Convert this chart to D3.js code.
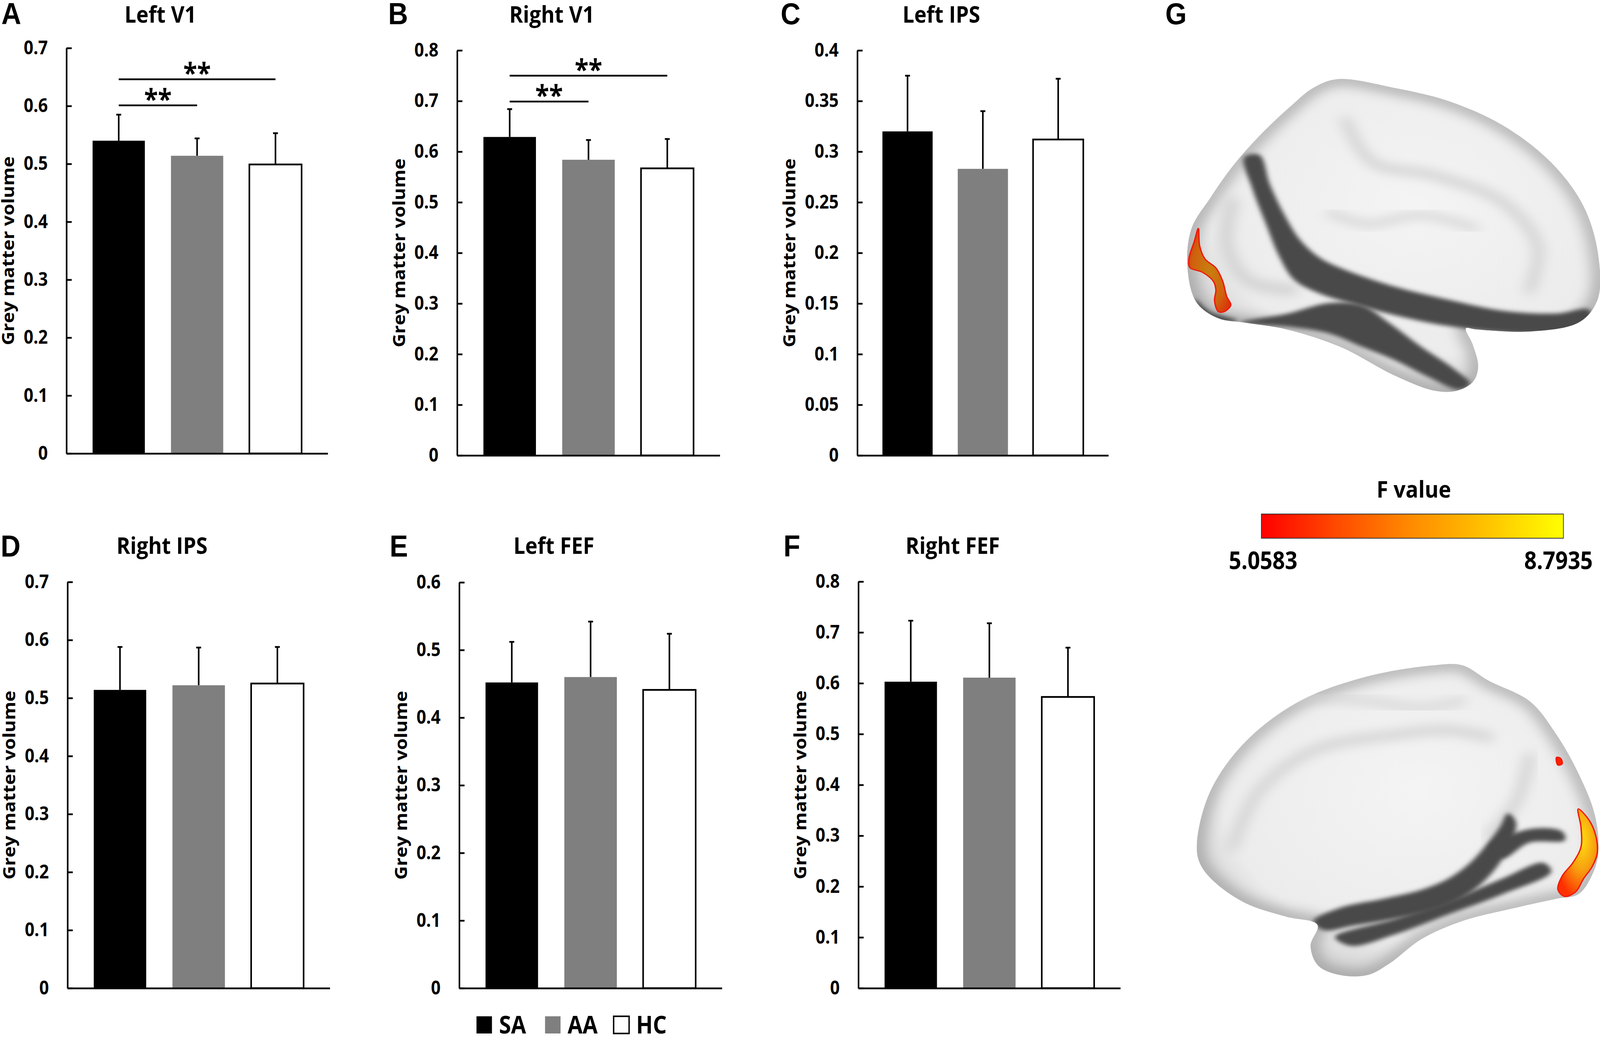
<!DOCTYPE html>
<html>
<head>
<meta charset="utf-8">
<script src="https://d3js.org/d3.v7.min.js"></script>
<style>
  html, body { margin: 0; padding: 0; background: #fff; overflow: hidden; }
  svg { display: block; }
  svg text { font-family: "Open Sans", sans-serif; font-weight: bold; fill: #000; }
</style>
</head>
<body>
<script>
// ---- data ----
var groups = ["SA", "AA", "HC"];
var panels = ["A", "B", "C", "D", "E", "F"];
var regions = ["Left V1", "Right V1", "Left IPS", "Right IPS", "Left FEF", "Right FEF"];

var meanSA = [0.540, 0.629, 0.320, 0.514, 0.452, 0.603];
var meanAA = [0.514, 0.584, 0.283, 0.522, 0.460, 0.611];
var meanHC = [0.499, 0.567, 0.312, 0.525, 0.441, 0.573];
var errSA  = [0.045, 0.055, 0.055, 0.074, 0.060, 0.120];
var errAA  = [0.030, 0.039, 0.057, 0.065, 0.082, 0.107];
var errHC  = [0.054, 0.058, 0.060, 0.063, 0.083, 0.097];

var yMax  = [0.7, 0.8, 0.4, 0.7, 0.6, 0.8];
var yStep = [0.1, 0.1, 0.05, 0.1, 0.1, 0.1];

var sigPanel = ["A", "A", "B", "B"];
var sigFrom  = ["SA", "SA", "SA", "SA"];
var sigTo    = ["AA", "HC", "AA", "HC"];
var sigLevel = [0.601, 0.646, 0.699, 0.750];
var sigMark  = ["**", "**", "**", "**"];

var fRange  = [5.0583, 8.7935];
var fLabels = ["5.0583", "8.7935"];

// ---- layout ----
var width = 4550, height = 2655;
var frames = {
  A: {x: 189,  end: 932,  top: 123,  base: 1161, titleY: 58,   lx: 4,    ly: 62},
  B: {x: 1300, end: 2047, top: 129,  base: 1166, titleY: 58,   lx: 1104, ly: 62},
  C: {x: 2438, end: 3152, top: 129,  base: 1166, titleY: 58,   lx: 2220, ly: 62},
  D: {x: 192,  end: 938,  top: 1490, base: 2530, titleY: 1418, lx: 2,    ly: 1425},
  E: {x: 1306, end: 2053, top: 1491, base: 2530, titleY: 1418, lx: 1108, ly: 1425},
  F: {x: 2441, end: 3186, top: 1489, base: 2530, titleY: 1418, lx: 2228, ly: 1425}
};
var fills = {SA: "#000000", AA: "#7f7f7f", HC: "#ffffff"};
var lw = 4.5;

var svg = d3.select("body").append("svg")
    .attr("viewBox", "0 0 " + width + " " + height)
    .attr("preserveAspectRatio", "none")
    .attr("width", "100vw")
    .attr("height", "100vh");
var defs = svg.append("defs");

panels.forEach(function (id, i) {
  var f = frames[id];
  var L = f.end - f.x;
  var g = svg.append("g").attr("class", "panel-" + id);
  var means = [meanSA[i], meanAA[i], meanHC[i]];
  var errs = [errSA[i], errAA[i], errHC[i]];
  var rows = groups.map(function (k, j) { return {k: k, v: means[j], e: errs[j]}; });

  var y = d3.scaleLinear().domain([0, yMax[i]]).range([f.base, f.top]);
  var x = d3.scaleBand().domain(groups)
      .range([f.x + 0.05 * L, f.x + 0.95 * L])
      .paddingInner(1 / 3).paddingOuter(1 / 6);

  // error bars (upper only)
  g.selectAll(".err").data(rows).enter().append("line")
      .attr("x1", function (d) { return x(d.k) + x.bandwidth() / 2; })
      .attr("x2", function (d) { return x(d.k) + x.bandwidth() / 2; })
      .attr("y1", function (d) { return y(d.v); })
      .attr("y2", function (d) { return y(d.v + d.e); })
      .attr("stroke", "#000").attr("stroke-width", lw);
  g.selectAll(".cap").data(rows).enter().append("line")
      .attr("x1", function (d) { return x(d.k) + x.bandwidth() / 2 - 7; })
      .attr("x2", function (d) { return x(d.k) + x.bandwidth() / 2 + 7; })
      .attr("y1", function (d) { return y(d.v + d.e); })
      .attr("y2", function (d) { return y(d.v + d.e); })
      .attr("stroke", "#000").attr("stroke-width", lw);

  g.selectAll(".bar").data(rows).enter().append("rect")
      .attr("x", function (d) { return x(d.k); })
      .attr("y", function (d) { return y(d.v); })
      .attr("width", x.bandwidth())
      .attr("height", function (d) { return y(0) - y(d.v); })
      .attr("fill", function (d) { return fills[d.k]; })
      .attr("stroke", function (d) { return d.k === "HC" ? "#000" : "none"; })
      .attr("stroke-width", lw);

  // y axis: ticks point inward, labels outside
  var ticks = d3.range(0, yMax[i] + yStep[i] / 2, yStep[i]);
  var yAxis = d3.axisLeft(y).tickValues(ticks)
      .tickSizeInner(-15).tickSizeOuter(0).tickPadding(53)
      .tickFormat(function (v) { return String(+v.toFixed(2)); });
  var ya = g.append("g").attr("transform", "translate(" + f.x + ",0)").call(yAxis);
  ya.select(".domain").attr("stroke-width", lw);
  ya.selectAll(".tick line").attr("stroke-width", lw);
  ya.selectAll(".tick text")
      .style("font-family", "'Open Sans', sans-serif")
      .style("font-weight", "bold")
      .attr("font-size", 48).attr("fill", "#000");

  var maxW = 0;
  ya.selectAll(".tick text").each(function () {
    maxW = Math.max(maxW, this.getComputedTextLength());
  });

  // x axis line
  var xl = d3.scaleLinear().range([f.x, f.end]);
  var xa = g.append("g").attr("transform", "translate(0," + f.base + ")")
      .call(d3.axisBottom(xl).tickValues([]).tickSizeOuter(0));
  xa.select(".domain").attr("stroke-width", lw);

  var labX = f.x - 53 - maxW - 27;
  g.append("text")
      .attr("transform", "translate(" + labX + "," + ((f.top + f.base) / 2) + ") rotate(-90)")
      .attr("text-anchor", "middle")
      .attr("font-size", 48)
      .text("Grey matter volume");

  g.append("text")
      .attr("x", ((labX - 38) + f.end) / 2 - 11)
      .attr("y", f.titleY)
      .attr("text-anchor", "middle")
      .attr("font-size", 59)
      .text(regions[i]);

  g.append("text")
      .attr("x", f.lx).attr("y", f.ly)
      .style("font-family", "'Liberation Sans', Arial, sans-serif")
      .attr("font-size", 78)
      .text(id);

  // significance brackets
  sigPanel.forEach(function (p, s) {
    if (p !== id) return;
    var x1 = x(sigFrom[s]) + x.bandwidth() / 2;
    var x2 = x(sigTo[s]) + x.bandwidth() / 2;
    var yy = y(sigLevel[s]);
    g.append("line").attr("x1", x1).attr("x2", x2).attr("y1", yy).attr("y2", yy)
        .attr("stroke", "#000").attr("stroke-width", lw);
    g.append("text").attr("x", (x1 + x2) / 2).attr("y", yy + 10)
        .attr("text-anchor", "middle").attr("font-size", 72)
        .text(sigMark[s]);
  });
});

// ---- legend ----
var legX = [1355, 1550, 1745];
var lg = svg.append("g");
lg.selectAll("rect").data(groups).enter().append("rect")
    .attr("x", function (d, j) { return legX[j]; })
    .attr("y", 2602).attr("width", 44).attr("height", 44)
    .attr("fill", function (d) { return fills[d]; })
    .attr("stroke", function (d) { return d === "HC" ? "#000" : "none"; })
    .attr("stroke-width", 4);
lg.selectAll("text").data(groups).enter().append("text")
    .attr("x", function (d, j) { return legX[j] + 64; })
    .attr("y", 2646).attr("font-size", 62)
    .text(function (d) { return d; });

// ---- panel G: colour bar ----
svg.append("text").attr("x", 3314).attr("y", 62)
    .style("font-family", "'Liberation Sans', Arial, sans-serif")
    .attr("font-size", 78).text("G");

var grad = defs.append("linearGradient").attr("id", "fgrad");
grad.selectAll("stop").data(["#ff0000", "#ff4a00", "#ff8c00", "#ffc400", "#ffff00"]).enter().append("stop")
    .attr("offset", function (d, j) { return j / 4; })
    .attr("stop-color", function (d) { return d; });

var cx = d3.scaleLinear().domain(fRange).range([3587, 4446]);
svg.append("rect").attr("x", cx(fRange[0])).attr("y", 1316)
    .attr("width", cx(fRange[1]) - cx(fRange[0])).attr("height", 62)
    .attr("fill", "url(#fgrad)").attr("stroke", "#333").attr("stroke-width", 2);
svg.append("text").attr("x", (cx(fRange[0]) + cx(fRange[1])) / 2 + 4).attr("y", 1274)
    .attr("text-anchor", "middle").attr("font-size", 60).text("F value");
svg.selectAll(".flab").data(fRange).enter().append("text")
    .attr("x", function (d, j) { return cx(d) + (j === 0 ? 5 : -14); })
    .attr("y", 1457).attr("text-anchor", "middle").attr("font-size", 62)
    .text(function (d, j) { return fLabels[j]; });

// ---- panel G: brain surfaces (schematic, local coords then placed) ----
var rg = defs.append("radialGradient").attr("id", "brainFill")
    .attr("cx", "55%").attr("cy", "40%").attr("r", "65%");
rg.append("stop").attr("offset", 0).attr("stop-color", "#f4f4f4");
rg.append("stop").attr("offset", 0.75).attr("stop-color", "#ececec");
rg.append("stop").attr("offset", 1).attr("stop-color", "#c8c8c8");

var hot = defs.append("radialGradient").attr("id", "hotFill").attr("cx", "60%").attr("cy", "35%").attr("r", "70%");
hot.append("stop").attr("offset", 0).attr("stop-color", "#ffe010");
hot.append("stop").attr("offset", 0.5).attr("stop-color", "#f7a010");
hot.append("stop").attr("offset", 1).attr("stop-color", "#ff3000");

var warm = defs.append("radialGradient").attr("id", "warmFill").attr("r", "70%");
warm.append("stop").attr("offset", 0).attr("stop-color", "#c8800f");
warm.append("stop").attr("offset", 0.6).attr("stop-color", "#d0600e");
warm.append("stop").attr("offset", 1).attr("stop-color", "#e02008");

defs.append("filter").attr("id", "blurS").attr("x", "-20%").attr("y", "-20%").attr("width", "140%").attr("height", "140%")
    .append("feGaussianBlur").attr("stdDeviation", 9);
defs.append("filter").attr("id", "blurL").attr("x", "-20%").attr("y", "-20%").attr("width", "140%").attr("height", "140%")
    .append("feGaussianBlur").attr("stdDeviation", 24);

var shapeLine = d3.line().curve(d3.curveCatmullRomClosed.alpha(0.5));
var strokeLine = d3.line().curve(d3.curveCatmullRom.alpha(0.5));

function drawBrain(key, place, outline, darks, lights, hotspots) {
  var gb = svg.append("g").attr("transform", place);
  defs.append("clipPath").attr("id", "clip" + key).append("path").attr("d", shapeLine(outline));
  gb.append("path").attr("d", shapeLine(outline)).attr("fill", "url(#brainFill)");
  var inner = gb.append("g").attr("clip-path", "url(#clip" + key + ")");
  inner.append("path").attr("d", shapeLine(outline)).attr("fill", "none")
      .attr("stroke", "#8a8a8a").attr("stroke-width", 70).attr("opacity", 0.5)
      .attr("filter", "url(#blurL)");
  lights.forEach(function (p) {
    inner.append("path").attr("d", strokeLine(p.pts)).attr("fill", "none")
        .attr("stroke", "#d2d2d2").attr("stroke-width", p.w).attr("stroke-linecap", "round")
        .attr("filter", "url(#blurL)");
  });
  darks.forEach(function (p) {
    inner.append("path").attr("d", shapeLine(p)).attr("fill", "#4a4a4a")
        .attr("filter", "url(#blurS)");
  });
  hotspots.forEach(function (p) {
    inner.append("path").attr("d", shapeLine(p.pts)).attr("fill", p.fill)
        .attr("stroke", "#f01808").attr("stroke-width", 5);
  });
}

drawBrain("top", "translate(3350,180) scale(0.769,0.562)",
  [[590, 40], [800, 80], [1000, 140], [1200, 250], [1380, 420], [1500, 620], [1555, 850], [1550, 1050],
   [1480, 1150], [1300, 1190], [1100, 1180], [1065, 1175], [1090, 1250], [1110, 1350], [1090, 1420],
   [1030, 1460], [950, 1460], [800, 1390], [600, 1260], [400, 1180], [250, 1150], [150, 1130],
   [70, 1060], [35, 900], [50, 720], [120, 580], [200, 440], [300, 300], [420, 160], [500, 80]],
  [[[245, 395], [300, 385], [340, 520], [390, 650], [450, 770], [520, 850], [600, 900], [800, 985],
    [1000, 1045], [1200, 1095], [1400, 1108], [1520, 1090], [1520, 1175], [1300, 1200], [1000, 1165],
    [800, 1115], [650, 1065], [520, 1015], [430, 955], [375, 850], [325, 700], [275, 540]],
   [[230, 1150], [400, 1110], [560, 1060], [680, 1070], [780, 1150], [900, 1260], [1020, 1360],
    [1080, 1430], [1040, 1455], [930, 1400], [800, 1320], [680, 1260], [560, 1200], [420, 1170]],
   [[60, 1040], [120, 1100], [220, 1140], [160, 1150], [80, 1110]]],
  [{w: 40, pts: [[620, 230], [720, 420], [950, 480], [1200, 600], [1330, 800], [1300, 1000]]},
   {w: 30, pts: [[560, 650], [700, 700], [900, 660], [1100, 720]]},
   {w: 50, pts: [[200, 600], [180, 800], [260, 960], [420, 1000]]}],
  [{fill: "url(#warmFill)", pts: [[75, 720], [60, 780], [40, 860], [45, 900], [90, 920], [130, 960],
    [140, 1000], [135, 1050], [150, 1100], [170, 1100], [195, 1070], [180, 1030], [165, 960],
    [140, 900], [100, 860], [80, 800]]}]
);

drawBrain("bottom", "translate(3350,1680) scale(0.769,0.575)",
  [[70, 830], [120, 600], [250, 380], [450, 200], [700, 90], [950, 40], [1050, 40], [1150, 110],
   [1300, 200], [1400, 350], [1480, 520], [1540, 700], [1555, 850], [1540, 950], [1480, 1060],
   [1400, 1080], [1250, 1120], [1050, 1180], [900, 1260], [780, 1370], [700, 1420], [600, 1420],
   [520, 1380], [490, 1290], [515, 1195], [400, 1160], [250, 1100], [130, 1000], [80, 920]],
  [[[500, 1180], [600, 1120], [760, 1080], [900, 1040], [1000, 990], [1080, 920], [1140, 840],
    [1190, 760], [1220, 700], [1250, 740], [1220, 860], [1150, 980], [1060, 1070], [950, 1130],
    [800, 1170], [650, 1200], [540, 1220]],
   [[1150, 850], [1300, 770], [1420, 780], [1430, 820], [1300, 830], [1200, 900]],
   [[580, 1250], [800, 1170], [1000, 1090], [1200, 990], [1350, 920], [1380, 960], [1200, 1060],
    [1000, 1150], [800, 1240], [640, 1290]]],
  [{w: 40, pts: [[200, 850], [300, 600], [500, 420], [800, 350], [1000, 330], [1150, 360]]},
   {w: 30, pts: [[420, 180], [700, 200], [900, 230], [1050, 200]]},
   {w: 40, pts: [[1300, 450], [1250, 650], [1150, 800]]}],
  [{fill: "url(#hotFill)", pts: [[1480, 680], [1520, 730], [1545, 800], [1550, 880], [1530, 940],
    [1500, 990], [1470, 1050], [1430, 1070], [1405, 1040], [1420, 980], [1460, 920], [1490, 850],
    [1490, 760]]},
   {fill: "#ff2000", pts: [[1400, 450], [1415, 455], [1420, 480], [1405, 485]]}]
);
</script>
</body>
</html>
